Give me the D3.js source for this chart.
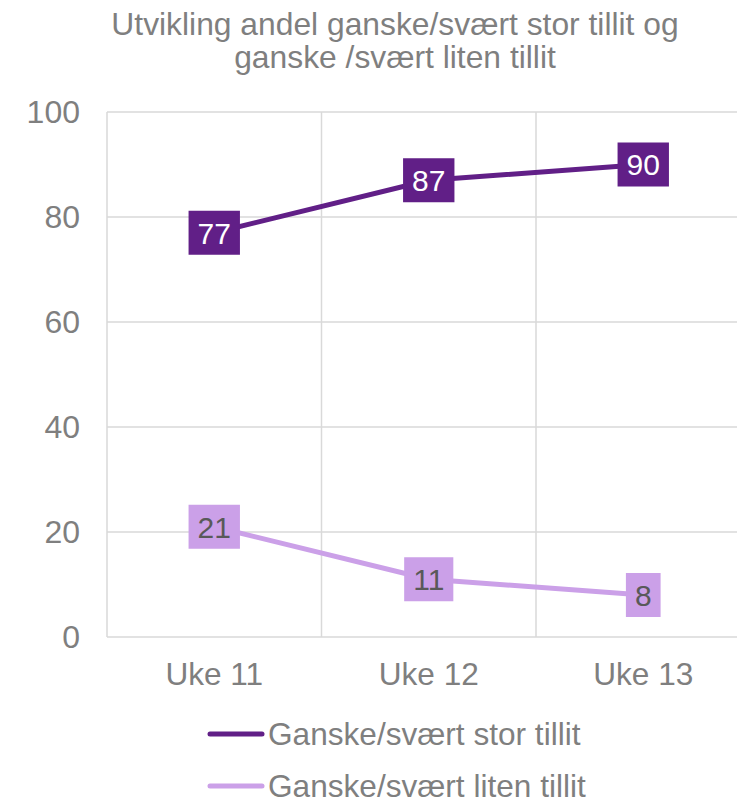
<!DOCTYPE html>
<html>
<head>
<meta charset="utf-8">
<script src="https://cdn.jsdelivr.net/npm/d3@7"></script>
<style>
  html, body { margin: 0; padding: 0; background: #fff; }
  svg { display: block; font-family: "Liberation Sans", Arial, sans-serif; }
</style>
</head>
<body>
<svg id="chart" width="737" height="798"></svg>
<script>
const categories = ["Uke 11", "Uke 12", "Uke 13"];
const storTillit = [77, 87, 90];
const litenTillit = [21, 11, 8];
const seriesNames = ["Ganske/svært stor tillit", "Ganske/svært liten tillit"];
const yTicks = [0, 20, 40, 60, 80, 100];
const titleLines = ["Utvikling andel ganske/svært stor tillit og", "ganske /svært liten tillit"];

const colors = ["#611f87", "#cba0e8"];
const labelText = ["#ffffff", "#595959"];
const gray = "#7f7f7f";
const grid = "#d9d9d9";

const svg = d3.select("#chart");
const plot = { left: 107, right: 750.5, top: 112, bottom: 637 };

const x = d3.scaleBand().domain(categories).range([plot.left, plot.right]).paddingInner(0).paddingOuter(0);
const y = d3.scaleLinear().domain([0, 100]).range([plot.bottom, plot.top]);

// title
svg.append("g").selectAll("text").data(titleLines).join("text")
  .attr("x", 395).attr("y", (d, i) => 35 + i * 33)
  .attr("text-anchor", "middle").attr("fill", gray)
  .attr("font-size", 31.8).text(d => d);

// horizontal gridlines
svg.append("g").selectAll("line").data(yTicks).join("line")
  .attr("x1", plot.left).attr("x2", plot.right)
  .attr("y1", d => y(d)).attr("y2", d => y(d))
  .attr("stroke", grid).attr("stroke-width", 1.5);

// vertical gridlines
const vLines = categories.map(c => x(c)).concat([x(categories[categories.length - 1]) + x.bandwidth()]);
svg.append("g").selectAll("line").data(vLines).join("line")
  .attr("x1", d => d).attr("x2", d => d)
  .attr("y1", plot.top).attr("y2", plot.bottom)
  .attr("stroke", grid).attr("stroke-width", 1.5);

// y axis labels
const yAxis = d3.axisLeft(y).tickValues(yTicks).tickSize(0).tickPadding(0);
const yg = svg.append("g").attr("transform", "translate(80,0)").call(yAxis);
yg.select(".domain").remove();
yg.selectAll("text").attr("fill", gray).attr("font-size", 32)
  .attr("font-family", "Liberation Sans, Arial, sans-serif");

// x axis labels
const xAxis = d3.axisBottom(x).tickSize(0).tickPadding(0);
const xg = svg.append("g").attr("transform", `translate(0,${plot.bottom})`).call(xAxis);
xg.select(".domain").remove();
xg.selectAll("text").attr("fill", gray).attr("font-size", 31.6)
  .attr("font-family", "Liberation Sans, Arial, sans-serif")
  .attr("dy", null).attr("y", 48);

// lines
const cx = c => x(c) + x.bandwidth() / 2;
const line = d3.line().x(d => cx(d.c)).y(d => y(d.v));
const series = [storTillit, litenTillit].map((vals, i) => ({
  name: seriesNames[i], color: colors[i], tc: labelText[i],
  points: vals.map((v, j) => ({ c: categories[j], v }))
}));

svg.append("g").selectAll("path").data(series).join("path")
  .attr("d", d => line(d.points))
  .attr("fill", "none").attr("stroke", d => d.color)
  .attr("stroke-width", 5).attr("stroke-linejoin", "round");

// data labels
series.forEach(s => {
  const g = svg.append("g");
  s.points.forEach(p => {
    const lg = g.append("g").attr("transform", `translate(${cx(p.c)},${y(p.v)})`);
    const t = lg.append("text").attr("text-anchor", "middle").attr("dy", "0.36em")
      .attr("font-size", 30).attr("fill", s.tc).text(p.v);
    const w = t.node().getComputedTextLength() + 18;
    lg.insert("rect", "text").attr("x", -w / 2).attr("y", -22).attr("width", w).attr("height", 44)
      .attr("fill", s.color);
  });
});

// legend
const lg = svg.append("g").selectAll("g").data(series).join("g")
  .attr("transform", (d, i) => `translate(0,${734 + i * 52})`);
lg.append("line").attr("x1", 210).attr("x2", 262).attr("y1", 0).attr("y2", 0)
  .attr("stroke", d => d.color).attr("stroke-width", 5).attr("stroke-linecap", "round");
lg.append("text").attr("x", 268).attr("dy", "0.35em").attr("font-size", 31.6)
  .attr("fill", gray).text(d => d.name);
</script>
</body>
</html>
